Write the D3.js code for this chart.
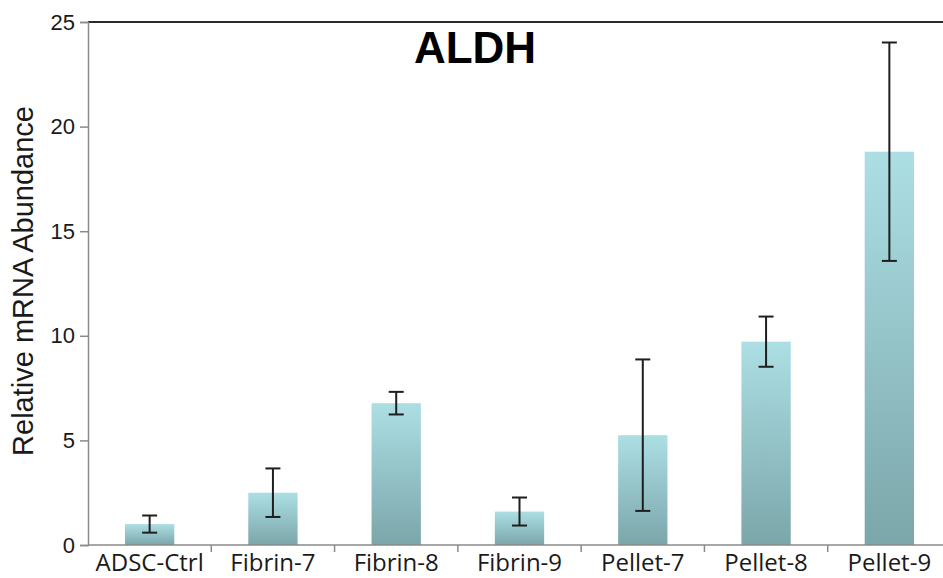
<!DOCTYPE html>
<html>
<head>
<meta charset="utf-8">
<script src="https://cdn.jsdelivr.net/npm/d3@7"></script>
<style>
html, body { margin: 0; padding: 0; background: #fff; }
svg { display: block; }
</style>
</head>
<body>
<svg id="chart" width="943" height="578"></svg>
<script>
const categories = ["ADSC-Ctrl", "Fibrin-7", "Fibrin-8", "Fibrin-9", "Pellet-7", "Pellet-8", "Pellet-9"];
const values = [1.0, 2.5, 6.78, 1.6, 5.25, 9.72, 18.8];
const errors = [0.41, 1.16, 0.54, 0.67, 3.62, 1.2, 5.22];
const yTicks = [0, 5, 10, 15, 20, 25];
const title = "ALDH";
const yLabel = "Relative mRNA Abundance";

(function () {
const svg = d3.select("#chart");
const pL = 88, pR = 951, pT = 22, pB = 545;

const x = d3.scaleBand().domain(categories).range([pL, pR]).paddingInner(0.6).paddingOuter(0.3);
const xb = d3.scaleBand().domain(categories).range([pL, pR]);
const y = d3.scaleLinear().domain([0, 25]).range([pB, pT]);

const defs = svg.append("defs");
const grad = defs.append("linearGradient").attr("id", "barGrad")
  .attr("x1", 0).attr("y1", 0).attr("x2", 0).attr("y2", 1);
grad.append("stop").attr("offset", "0%").attr("stop-color", "#acdfe4");
grad.append("stop").attr("offset", "100%").attr("stop-color", "#7ba6aa");
const blur = defs.append("filter").attr("id", "soft");
blur.append("feGaussianBlur").attr("stdDeviation", 0.6);

// bars
svg.append("g").selectAll("rect").data(categories).join("rect")
  .attr("x", d => x(d))
  .attr("width", x.bandwidth())
  .attr("y", (d, i) => y(values[i]))
  .attr("height", (d, i) => y(0) - y(values[i]))
  .attr("fill", "url(#barGrad)")
  .attr("filter", "url(#soft)");

// error bars
const eg = svg.append("g").attr("stroke", "#1e1e1e").attr("stroke-width", 2);
categories.forEach((c, i) => {
  const cx = x(c) + x.bandwidth() / 2;
  const hi = y(values[i] + errors[i]), lo = y(values[i] - errors[i]);
  eg.append("line").attr("x1", cx).attr("x2", cx).attr("y1", hi).attr("y2", lo);
  eg.append("line").attr("x1", cx - 7.5).attr("x2", cx + 7.5).attr("y1", hi).attr("y2", hi);
  eg.append("line").attr("x1", cx - 7.5).attr("x2", cx + 7.5).attr("y1", lo).attr("y2", lo);
});

// top border
svg.append("line").attr("x1", pL).attr("x2", 943).attr("y1", pT).attr("y2", pT)
  .attr("stroke", "#2a2a2a").attr("stroke-width", 2);

// y axis
const yAxis = svg.append("g").attr("transform", `translate(${pL},0)`)
  .call(d3.axisLeft(y).tickValues(yTicks).tickSize(8).tickPadding(5));
yAxis.select(".domain").attr("stroke", "#8a8a8a").attr("stroke-width", 1.5);
yAxis.selectAll(".tick line").attr("stroke", "#8a8a8a").attr("stroke-width", 1.5);
yAxis.selectAll(".tick text").attr("font-family", "Liberation Sans, Arial, sans-serif")
  .attr("font-size", 22).attr("fill", "#1a1a1a");

// x axis line and ticks at band boundaries
svg.append("line").attr("x1", pL).attr("x2", 943).attr("y1", pB).attr("y2", pB)
  .attr("stroke", "#8a8a8a").attr("stroke-width", 1.5);
svg.append("g").selectAll("line").data(categories.slice(1)).join("line")
  .attr("x1", d => xb(d)).attr("x2", d => xb(d))
  .attr("y1", pB).attr("y2", pB + 7)
  .attr("stroke", "#8a8a8a").attr("stroke-width", 1.5);
svg.append("g").selectAll("text").data(categories).join("text")
  .attr("x", d => x(d) + x.bandwidth() / 2)
  .attr("y", 571)
  .attr("text-anchor", "middle")
  .attr("font-family", "Open Sans, sans-serif")
  .attr("font-size", 24)
  .attr("fill", "#1a1a1a")
  .text(d => d);

// title
svg.append("text").attr("x", 475).attr("y", 63).attr("text-anchor", "middle")
  .attr("font-family", "Liberation Sans, Arial, sans-serif").attr("font-weight", "bold")
  .attr("font-size", 44).attr("fill", "#000").text(title);

// y label
svg.append("text").attr("transform", "translate(33,281) rotate(-90)")
  .attr("text-anchor", "middle")
  .attr("font-family", "Liberation Sans, Arial, sans-serif")
  .attr("font-size", 29).attr("fill", "#1a1a1a").text(yLabel);
})();
</script>
</body>
</html>
